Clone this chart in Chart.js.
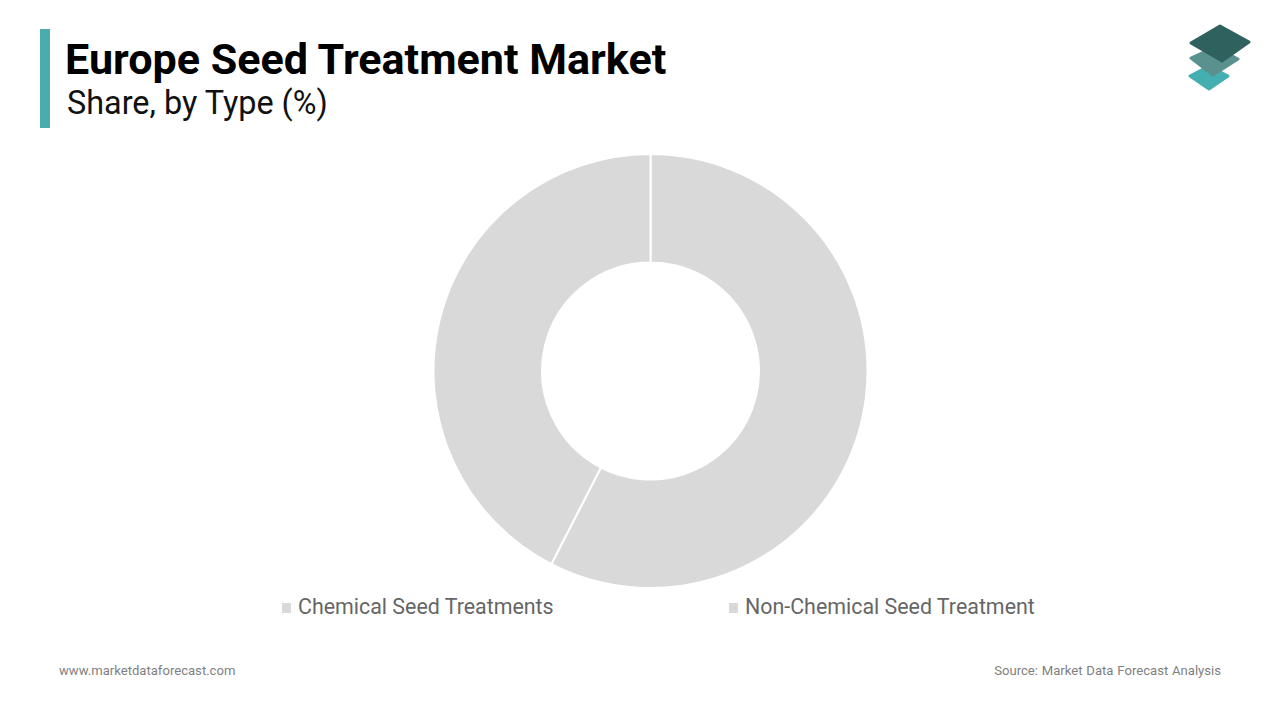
<!DOCTYPE html>
<html>
<head>
<meta charset="utf-8">
<title>Europe Seed Treatment Market</title>
<script src="https://cdn.jsdelivr.net/npm/chart.js@4"></script>
<style>
    html, body { margin: 0; padding: 0; background: #fff; }
    body { position: relative; width: 1280px; height: 720px; overflow: hidden; font-family: Roboto, sans-serif; }
    .bar { position: absolute; left: 40px; top: 29px; width: 10px; height: 99px; background: #4bacaf; }
    .title { position: absolute; left: 65px; top: 35px; font-size: 43.1px; line-height: 49px; font-weight: 700; color: #000; white-space: nowrap; }
    .subtitle { position: absolute; left: 67px; top: 84px; font-size: 32.4px; line-height: 38px; color: #111; white-space: nowrap; }
    .logo { position: absolute; left: 1180px; top: 18px; }
    #chartBox { position: absolute; left: 432px; top: 153px; width: 437px; height: 436px; }
    .legend-item { position: absolute; top: 594px; font-size: 21.4px; line-height: 26px; color: #666; white-space: nowrap; }
    .legend-item i { position: absolute; left: -16px; top: 9px; width: 9px; height: 10px; background: #d9d9d9; }
    .foot { position: absolute; top: 662px; font-size: 13.1px; line-height: 17px; color: #7f7f7f; white-space: nowrap; }
</style>
</head>
<body>
<div class="bar"></div>
<div class="title">Europe Seed Treatment Market</div>
<div class="subtitle">Share, by Type (%)</div>
<svg class="logo" width="80" height="80" viewBox="0 0 80 80">
    <path d="M10 58 L29 48 L48 58 L29 71 Z" fill="#45aeb1" stroke="#45aeb1" stroke-width="3" stroke-linejoin="round"/>
    <path d="M11 40 L35 29 L58 41 L33 57 Z" fill="#5a918f" stroke="#5a918f" stroke-width="3" stroke-linejoin="round"/>
    <path d="M11 25 L40 8 L69 24 L42 43 Z" fill="#2f625f" stroke="#2f625f" stroke-width="3" stroke-linejoin="round"/>
</svg>
<div id="chartBox"><canvas id="shareChart" width="437" height="436"></canvas></div>
<div id="legend"></div>
<div class="foot" style="left:59px">www.marketdataforecast.com</div>
<div class="foot" style="right:59px;word-spacing:0.6px">Source: Market Data Forecast Analysis</div>
<script>
const categories = ['Chemical Seed Treatments', 'Non-Chemical Seed Treatment'];
const shareValues = [57.55, 42.45];
const sliceColors = ['#d9d9d9', '#d9d9d9'];
const legendLefts = [298, 745];

function drawLegend() {
    const box = document.getElementById('legend');
    categories.forEach((name, i) => {
        const item = document.createElement('div');
        item.className = 'legend-item';
        item.style.left = legendLefts[i] + 'px';
        const mark = document.createElement('i');
        mark.style.background = sliceColors[i];
        item.appendChild(mark);
        item.appendChild(document.createTextNode(name));
        box.appendChild(item);
    });
}

function drawChart() {
    const ctx = document.getElementById('shareChart').getContext('2d');
    new Chart(ctx, {
        type: 'doughnut',
        data: {
            labels: categories,
            datasets: [{
                data: shareValues,
                backgroundColor: sliceColors,
                borderColor: '#ffffff',
                borderWidth: 2
            }]
        },
        options: {
            responsive: false,
            animation: false,
            cutout: '50%',
            layout: { padding: 0 },
            plugins: {
                legend: { display: false },
                title: { display: false },
                tooltip: { enabled: false }
            }
        }
    });
}

drawLegend();
drawChart();
</script>
</body>
</html>
